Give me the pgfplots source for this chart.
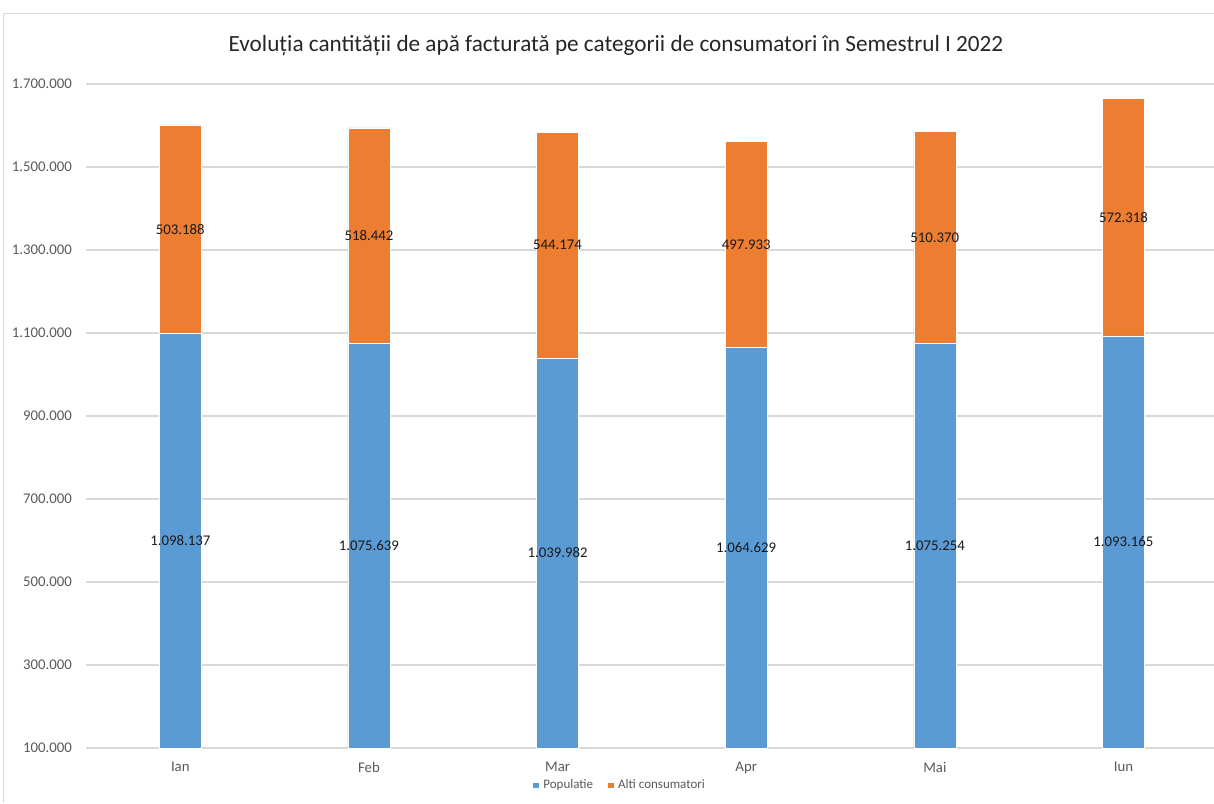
\documentclass[border=0pt]{standalone}
\usepackage{pgfplots}
\usepackage{pgfplotstable}
\pgfplotsset{compat=1.18}
\usepackage{fontspec}
\setmainfont{Carlito}

\definecolor{popblue}{HTML}{5B9BD5}
\definecolor{altorange}{HTML}{ED7D31}
\definecolor{gridgray}{HTML}{D9D9D9}
\definecolor{ticktext}{HTML}{595959}

% luna, populatie, alti consumatori
\pgfplotstableread{
i pop alt
0 1098137 503188
1 1075639 518442
2 1039982 544174
3 1064629 497933
4 1075254 510370
5 1093165 572318
}\apadata

\pgfplotsset{
  common/.style={
    scale only axis,
    width=564pt, height=332pt,
    at={(0,0)}, anchor=south west,
    xmin=-0.5, xmax=5.48,
    ymin=100000, ymax=1700000,
  },
}

\begin{document}
\begin{tikzpicture}
\useasboundingbox (-43pt,-27.5pt) rectangle (564pt,374pt);
% rama graficului
\draw[gridgray, line width=0.75pt] (-41.25pt,-27.5pt) -- (-41.25pt,367.25pt) -- (564pt,367.25pt);

\begin{axis}[
    common,
    ybar stacked,
    bar width=21pt,
    axis lines*=left,
    x axis line style={gridgray, line width=0.75pt, -},
    y axis line style={draw=none},
    ymajorgrids,
    grid style={gridgray, line width=0.75pt},
    major tick style={draw=none},
    xtick=data,
    xticklabels={Ian, Feb, Mar, Apr, Mai, Iun},
    ytick={100000,300000,...,1700000},
    scaled y ticks=false,
    yticklabel style={/pgf/number format/fixed, /pgf/number format/precision=0,
      /pgf/number format/1000 sep={.}, /pgf/number format/assume math mode=true, xshift=-3.5pt},
    ticklabel style={font=\fontsize{7.4}{9}\selectfont, text=ticktext},
    xticklabel style={yshift=-3.5pt},
    title={Evoluția cantității de apă facturată pe categorii de consumatori în Semestrul I 2022},
    title style={font=\fontsize{11.6}{13}\selectfont, text=black!85, at={(265pt,345pt)}, anchor=center},
    legend style={draw=none, fill=none, at={(0.474,-0.056)}, anchor=center,
      legend columns=2, font=\fontsize{6.5}{8}\selectfont, text=ticktext,
      /tikz/every even column/.append style={column sep=5pt}},
    legend image code/.code={\fill[#1] (0pt,-1.6pt) rectangle (3.2pt,1.6pt);},
  ]
  \addplot[fill=popblue, draw=white, line width=0.3pt] table[x=i, y=pop] {\apadata};
  \addplot[fill=altorange, draw=white, line width=0.3pt] table[x=i, y=alt] {\apadata};
  \legend{Populatie, Alti consumatori}
\end{axis}

% etichetele valorilor, la mijlocul fiecarui segment vizibil
\begin{axis}[
    common,
    hide axis,
    point meta=explicit symbolic,
    nodes near coords={\pgfmathprintnumber[fixed, precision=0, 1000 sep={.}, assume math mode=true]{\pgfplotspointmeta}},
    every node near coord/.append style={anchor=center, font=\fontsize{7.4}{9}\selectfont, text=black!90},
  ]
  \addplot[draw=none, mark=none] table[x=i, y expr={(\thisrow{pop}+100000)/2}, meta=pop] {\apadata};
  \addplot[draw=none, mark=none] table[x=i, y expr={\thisrow{pop}+\thisrow{alt}/2}, meta=alt] {\apadata};
\end{axis}
\end{tikzpicture}
\end{document}
